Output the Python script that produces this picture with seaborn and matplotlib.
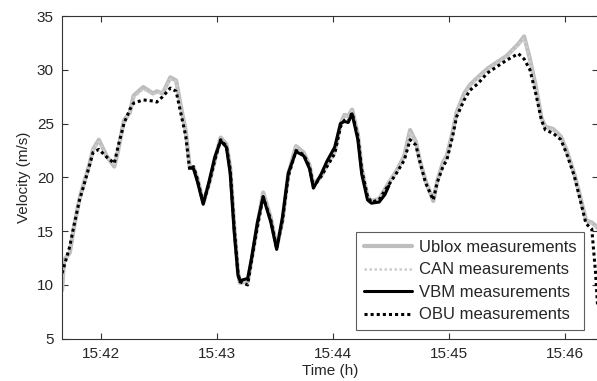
import pandas as pd
import matplotlib
matplotlib.use('Agg')
import matplotlib.pyplot as plt
import matplotlib.dates as mdates
import seaborn as sns

# time stamps (h:m:s) shared by Ublox, CAN and OBU
times = ['15:41:40', '15:41:41', '15:41:44', '15:41:46', '15:41:49', '15:41:51', '15:41:54',
         '15:41:56', '15:41:59', '15:42:03', '15:42:07', '15:42:09', '15:42:12', '15:42:15',
         '15:42:17', '15:42:22', '15:42:27', '15:42:29', '15:42:32', '15:42:36', '15:42:39',
         '15:42:41', '15:42:44', '15:42:46', '15:42:48', '15:42:50', '15:42:53', '15:42:56',
         '15:42:59', '15:43:02', '15:43:05', '15:43:07', '15:43:09', '15:43:11', '15:43:12',
         '15:43:16', '15:43:18', '15:43:21', '15:43:24', '15:43:28', '15:43:31', '15:43:34',
         '15:43:37', '15:43:41', '15:43:45', '15:43:48', '15:43:50', '15:43:54', '15:43:57',
         '15:44:01', '15:44:04', '15:44:06', '15:44:08', '15:44:10', '15:44:13', '15:44:15',
         '15:44:18', '15:44:20', '15:44:24', '15:44:27', '15:44:29', '15:44:33', '15:44:37',
         '15:44:40', '15:44:43', '15:44:45', '15:44:48', '15:44:52', '15:44:54', '15:44:57',
         '15:44:59', '15:45:02', '15:45:04', '15:45:08', '15:45:11', '15:45:15', '15:45:20',
         '15:45:25', '15:45:30', '15:45:36', '15:45:39', '15:45:42', '15:45:45', '15:45:48',
         '15:45:50', '15:45:54', '15:45:58', '15:46:01', '15:46:05', '15:46:08', '15:46:11',
         '15:46:14', '15:46:16', '15:46:17']

ublox = [9.5, 12.3, 13.0, 15.2, 18.0, 19.3, 21.1,
         22.6, 23.5, 22.0, 21.0, 22.5, 25.3, 26.0,
         27.6, 28.4, 27.8, 28.0, 27.8, 29.3, 29.0,
         27.0, 24.3, 21.0, 20.9, 19.9, 17.6, 19.4,
         21.6, 23.7, 23.1, 20.8, 15.6, 11.1, 10.2,
         10.3, 12.3, 15.5, 18.6, 16.2, 13.5, 16.0,
         20.3, 22.9, 22.3, 21.1, 19.3, 20.1, 21.2,
         22.4, 24.9, 25.8, 25.7, 26.3, 24.0, 20.8,
         18.2, 17.8, 18.0, 18.9, 19.5, 20.6, 22.0,
         24.4, 23.3, 21.6, 19.7, 17.8, 19.6, 21.4,
         22.0, 24.2, 26.0, 27.8, 28.6, 29.3, 30.1,
         30.7, 31.3, 32.4, 33.1, 31.0, 28.5, 25.5,
         24.7, 24.5, 23.8, 22.5, 20.3, 18.2, 16.0,
         15.8, 15.5, 15.3]

can = [9.8, 12.1, 13.2, 15.3, 18.0, 19.2, 21.0,
       22.5, 23.3, 22.0, 21.1, 22.6, 25.2, 26.1,
       27.4, 28.2, 27.7, 27.9, 27.8, 29.1, 28.9,
       26.9, 24.2, 21.0, 20.9, 19.8, 17.6, 19.4,
       21.6, 23.6, 23.0, 20.7, 15.5, 11.1, 10.3,
       10.4, 12.3, 15.5, 18.5, 16.1, 13.5, 16.0,
       20.2, 22.8, 22.2, 21.0, 19.3, 20.1, 21.2,
       22.3, 24.8, 25.7, 25.6, 26.2, 23.9, 20.8,
       18.2, 17.8, 18.0, 18.9, 19.5, 20.6, 22.0,
       24.2, 23.2, 21.6, 19.7, 17.9, 19.6, 21.3,
       22.0, 24.1, 25.9, 27.7, 28.5, 29.2, 30.0,
       30.6, 31.2, 32.3, 32.9, 30.9, 28.4, 25.4,
       24.6, 24.4, 23.7, 22.4, 20.2, 18.1, 16.0,
       15.7, 15.4, 15.2]

obu = [11.1, 11.7, 13.6, 15.4, 17.9, 19.1, 21.0,
       22.3, 22.6, 21.9, 21.3, 22.9, 25.0, 26.3,
       26.9, 27.2, 27.1, 27.0, 27.5, 28.3, 28.0,
       26.3, 23.8, 20.7, 21.0, 19.8, 17.6, 19.4,
       21.6, 23.5, 22.9, 20.7, 15.4, 11.1, 10.3,
       10.0, 12.3, 15.4, 18.2, 16.0, 13.4, 16.0,
       20.1, 22.5, 22.1, 21.0, 19.1, 20.1, 21.0,
       22.2, 24.7, 25.3, 25.2, 26.0, 23.8, 20.7,
       18.2, 17.7, 17.9, 18.8, 19.3, 20.4, 21.6,
       23.5, 23.0, 21.5, 19.5, 17.9, 19.5, 21.0,
       21.6, 23.8, 25.6, 27.2, 28.1, 28.7, 29.7,
       30.3, 30.9, 31.5, 31.0, 30.0, 27.8, 25.3,
       24.4, 24.1, 23.5, 22.2, 20.1, 17.9, 15.7,
       15.2, 11.0, 8.0]

vbm_times = ['15:42:46', '15:42:48', '15:42:50', '15:42:53', '15:42:56', '15:42:59', '15:43:02',
             '15:43:05', '15:43:07', '15:43:09', '15:43:11', '15:43:12', '15:43:16', '15:43:18',
             '15:43:21', '15:43:24', '15:43:28', '15:43:31', '15:43:34', '15:43:37', '15:43:41',
             '15:43:45', '15:43:48', '15:43:50', '15:43:54', '15:43:57', '15:44:01', '15:44:04',
             '15:44:06', '15:44:08', '15:44:10', '15:44:13', '15:44:15', '15:44:18', '15:44:20',
             '15:44:24', '15:44:27', '15:44:29']
vbm = [20.9, 20.8, 19.6, 17.5, 19.6, 21.9, 23.4,
       22.8, 20.3, 15.0, 10.9, 10.4, 10.6, 12.5,
       15.8, 18.2, 15.8, 13.3, 16.3, 20.4, 22.4,
       22.0, 20.8, 19.0, 20.3, 21.5, 22.8, 25.0,
       25.2, 25.1, 25.9, 23.5, 20.3, 17.9, 17.6,
       17.7, 18.4, 19.2]

t = pd.to_datetime(['2000-01-01 ' + s for s in times])
tv = pd.to_datetime(['2000-01-01 ' + s for s in vbm_times])

sns.set_style('white')
plt.rcParams['font.family'] = ['Liberation Sans', 'DejaVu Sans']

fig = plt.figure(figsize=(5.97, 3.81), dpi=100)
ax = fig.add_axes([0.104, 0.111, 0.897, 0.847])

dot = (0, (1, 1))
sns.lineplot(x=t, y=ublox, ax=ax, color='#bebebe', linewidth=3.0, label='Ublox measurements')
sns.lineplot(x=t, y=can, ax=ax, color='#cdcdcd', linewidth=1.8, linestyle=dot, label='CAN measurements')
sns.lineplot(x=tv, y=vbm, ax=ax, color='black', linewidth=2.2, label='VBM measurements')
sns.lineplot(x=t, y=obu, ax=ax, color='black', linewidth=2.2, linestyle=dot, label='OBU measurements')

ax.set_xlim(pd.Timestamp('2000-01-01 15:41:40'), pd.Timestamp('2000-01-01 15:46:17'))
ax.set_ylim(5, 35)
ax.set_yticks([5, 10, 15, 20, 25, 30, 35])
ax.xaxis.set_major_locator(mdates.MinuteLocator())
ax.xaxis.set_major_formatter(mdates.DateFormatter('%H:%M'))
ax.set_xlabel('Time (h)', fontsize=11, labelpad=2)
ax.set_ylabel('Velocity (m/s)', fontsize=11, labelpad=4)
ax.tick_params(direction='in', length=4, width=0.8, labelsize=11, color='#333333',
               top=True, right=True, bottom=True, left=True, pad=6)
for sp in ax.spines.values():
    sp.set_color('#333333')
    sp.set_linewidth(0.8)

leg = ax.legend(loc='lower right', bbox_to_anchor=(0.974, 0.027), fontsize=12, frameon=True,
                fancybox=False, edgecolor='#333333', handlelength=2.9, borderpad=0.45,
                labelspacing=0.45, handletextpad=0.4, borderaxespad=0)
leg.get_frame().set_linewidth(0.8)

plt.savefig('out.png', dpi=100)
plt.close()
